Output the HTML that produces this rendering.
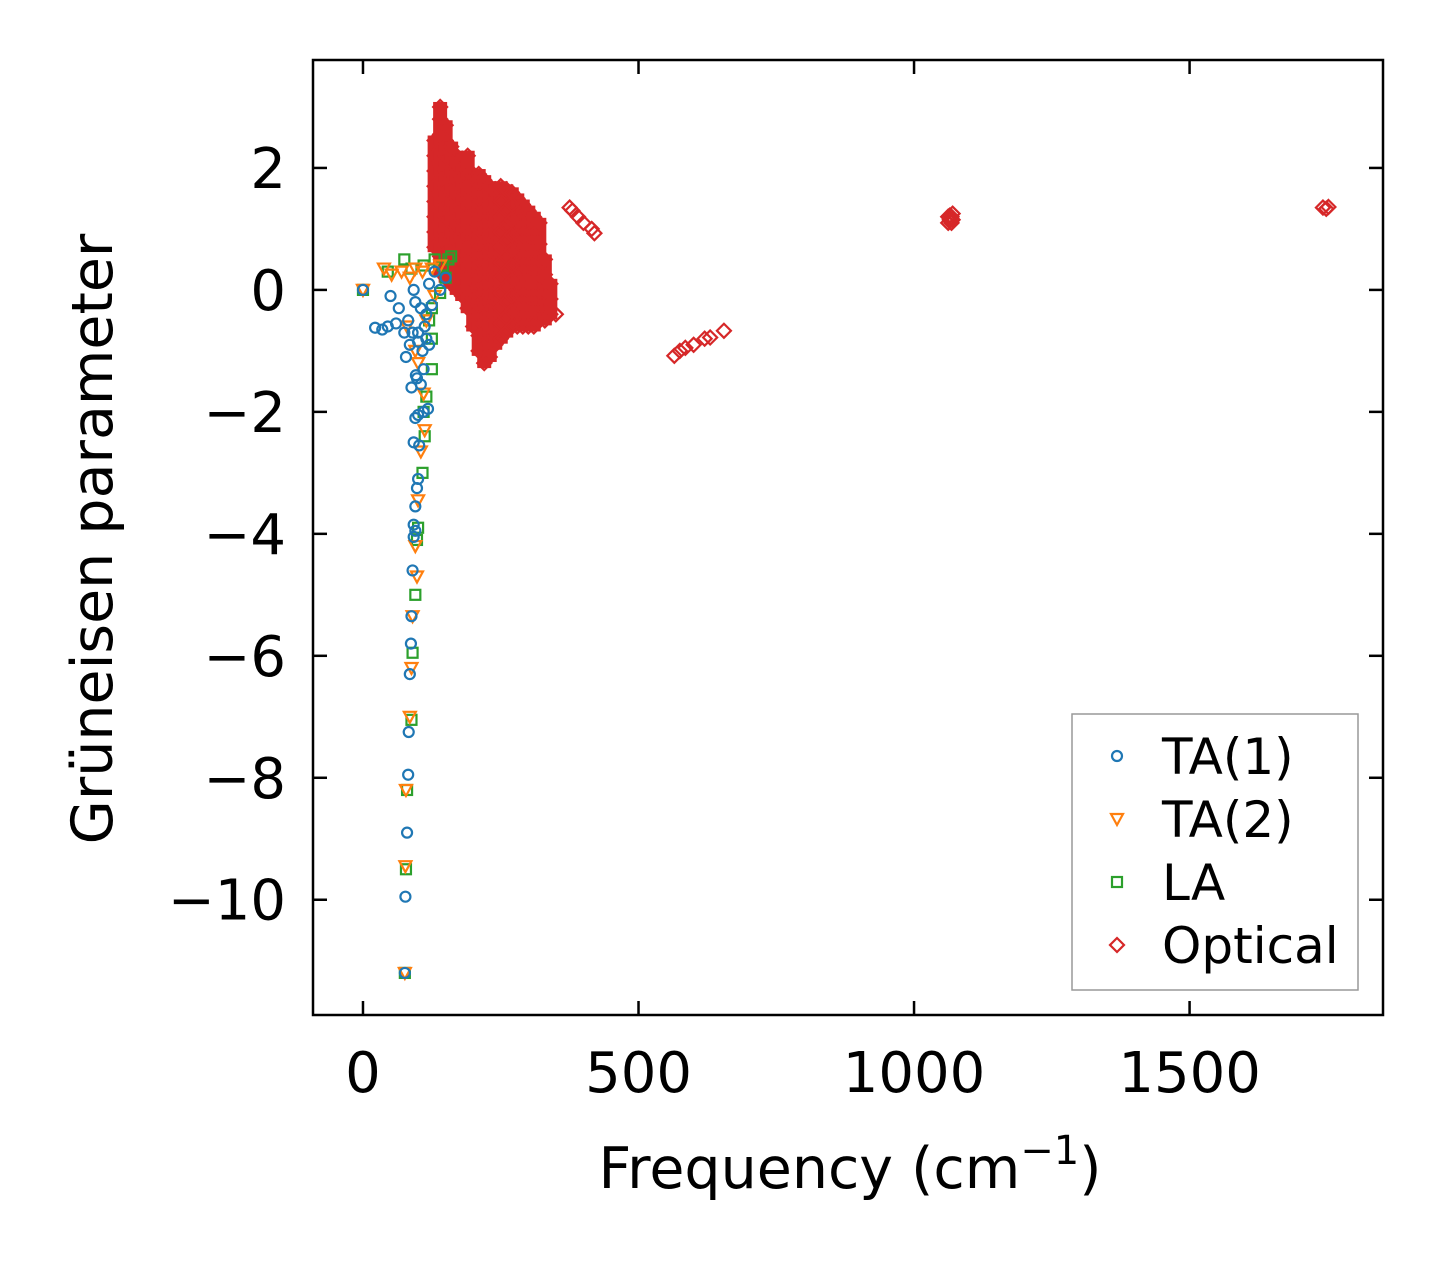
<!DOCTYPE html>
<html><head><meta charset="utf-8"><style>
html,body{margin:0;padding:0;background:#fff;}
svg{display:block;font-family:"DejaVu Sans","Liberation Sans",sans-serif;}
</style></head><body>
<svg id="chart" width="1443" height="1264" viewBox="0 0 1443 1264" xmlns="http://www.w3.org/2000/svg">
<rect width="1443" height="1264" fill="#fff"/>
<g id="marks"></g>
<rect x="313" y="60" width="1070" height="955" fill="none" stroke="#000" stroke-width="2.5"/>
<g id="ticks"></g>
<text x="850" y="1188" font-size="57" text-anchor="middle">Frequency (cm<tspan dy="-24" font-size="40">−1</tspan><tspan dy="24">)</tspan></text>
<text transform="translate(112,539) rotate(-90)" font-size="57" text-anchor="middle">Grüneisen parameter</text>
<g id="legend">
<rect x="1072" y="714" width="286" height="276" fill="#fff" stroke="#999" stroke-width="1.5"/>
</g>
</svg>
<script>
const xTicks = [0, 500, 1000, 1500];
const yTicks = [2, 0, -2, -4, -6, -8, -10];
const ta1Freq = [0,22,35,45,50,60,65,75,78,82,85,88,90,92,95,98,100,105,110,112,115,120,125,130,140,150,95,100,92,102,100,98,95,92,95,92,90,88,87,85,83,82,80,77,76,100,108,105,96,115,118,110,120];
const ta1Gamma = [0,-0.62,-0.65,-0.6,-0.1,-0.55,-0.3,-0.7,-1.1,-0.5,-0.9,-1.6,-0.7,0.0,-0.2,-1.45,-0.85,-0.3,-1.3,-0.6,-0.4,0.1,-0.25,0.3,0.0,0.2,-2.1,-2.05,-2.5,-2.55,-3.1,-3.25,-3.55,-3.85,-3.95,-4.05,-4.6,-5.35,-5.8,-6.3,-7.25,-7.95,-8.9,-9.95,-11.2,-0.7,-1.0,-1.55,-1.4,-0.8,-1.95,-2.0,-0.9];
const ta2Freq = [0,38,52,70,85,95,108,125,140,80,95,100,110,112,105,100,95,98,90,88,85,78,77,76,130,115];
const ta2Gamma = [0,0.35,0.25,0.3,0.2,0.35,0.3,0.35,0.4,-0.6,-1.0,-1.2,-1.7,-2.3,-2.65,-3.45,-4.2,-4.7,-5.35,-6.2,-7.0,-8.2,-9.45,-11.2,-0.1,-0.5];
const laFreq = [0,45,75,88,110,130,145,155,160,125,120,125,125,115,110,112,108,100,98,95,90,88,80,78,76,140,150];
const laGamma = [0,0.3,0.5,0.35,0.4,0.5,0.4,0.5,0.55,-0.3,-0.5,-0.8,-1.3,-1.75,-2.0,-2.4,-3.0,-3.9,-4.1,-5.0,-5.95,-7.05,-8.2,-9.5,-11.2,-0.05,0.2];
const optCols = [
 [130,[0.7,0.95,1.2,1.45,1.7,1.95,2.2,2.45]],
 [140,[0.3,0.55,0.8,1.05,1.3,1.55,1.8,2.05,2.3,2.55,2.8,3.0]],
 [150,[0.2,0.45,0.7,0.95,1.2,1.45,1.7,1.95,2.2,2.45,2.7]],
 [160,[0.1,0.35,0.6,0.85,1.1,1.35,1.6,1.85,2.1,2.35]],
 [170,[0.0,0.25,0.5,0.75,1.0,1.25,1.5,1.75,2.0,2.2]],
 [180,[-0.1,0.15,0.4,0.65,0.9,1.15,1.4,1.65,1.9,2.15]],
 [190,[-0.3,-0.05,0.2,0.45,0.7,0.95,1.2,1.45,1.7,1.95,2.2]],
 [200,[-0.6,-0.35,-0.1,0.15,0.4,0.65,0.9,1.15,1.4,1.65,1.9]],
 [210,[-1.0,-0.75,-0.5,-0.25,0.0,0.25,0.5,0.75,1.0,1.25,1.5,1.75,1.9]],
 [220,[-1.2,-0.95,-0.7,-0.45,-0.2,0.05,0.3,0.55,0.8,1.05,1.3,1.55,1.8]],
 [230,[-1.1,-0.85,-0.6,-0.35,-0.1,0.15,0.4,0.65,0.9,1.15,1.4,1.7]],
 [240,[-0.9,-0.65,-0.4,-0.15,0.1,0.35,0.6,0.85,1.1,1.35,1.65]],
 [250,[-0.8,-0.55,-0.3,-0.05,0.2,0.45,0.7,0.95,1.2,1.45,1.7]],
 [260,[-0.7,-0.45,-0.2,0.05,0.3,0.55,0.8,1.05,1.3,1.65]],
 [270,[-0.6,-0.35,-0.1,0.15,0.4,0.65,0.9,1.15,1.4,1.6]],
 [280,[-0.6,-0.35,-0.1,0.15,0.4,0.65,0.9,1.15,1.5]],
 [290,[-0.6,-0.35,-0.1,0.15,0.4,0.65,0.9,1.15,1.4]],
 [300,[-0.6,-0.35,-0.1,0.15,0.4,0.65,0.9,1.3]],
 [310,[-0.6,-0.35,-0.1,0.15,0.4,0.65,0.9,1.2]],
 [320,[-0.5,-0.25,0.0,0.25,0.5,0.75,1.1]],
 [330,[-0.5,-0.25,0.0,0.25,0.5]],
 [340,[-0.4,-0.15,0.1]],
 [350,[-0.4]],
 [375,[1.35]],[380,[1.3]],[390,[1.2]],[400,[1.1]],[415,[1.0]],[420,[0.93]],
 [565,[-1.08]],[575,[-1.0]],[585,[-0.95]],[600,[-0.9]],[620,[-0.8]],[630,[-0.78]],[655,[-0.67]],
 [1062,[1.1,1.2]],[1065,[1.15,1.22]],[1068,[1.2,1.1]],[1070,[1.25,1.15]],
 [1742,[1.35]],[1748,[1.33]],[1752,[1.36]]
];
const legendLabels = ["TA(1)","TA(2)","LA","Optical"];

const NS = "http://www.w3.org/2000/svg";
const X0 = 313, X1 = 1383, Y0 = 60, Y1 = 1015;
const xMin = -90.7, xMax = 1851, yMin = -11.89, yMax = 3.77;
function xs(v){ return X0 + (v - xMin) / (xMax - xMin) * (X1 - X0); }
function ys(v){ return Y1 - (v - yMin) / (yMax - yMin) * (Y1 - Y0); }
function mk(tag, attrs, parent){
  const e = document.createElementNS(NS, tag);
  for (const k in attrs) e.setAttribute(k, attrs[k]);
  parent.appendChild(e); return e;
}
const COLORS = {ta1:"#1f77b4", ta2:"#ff7f0e", la:"#2ca02c", opt:"#d62728"};
function marker(kind, cx, cy, parent, scale){
  const s = scale || 1;
  let e;
  if (kind === "ta1") e = mk("circle", {cx:cx, cy:cy, r:5*s, fill:"none", stroke:COLORS.ta1, "stroke-width":2.2}, parent);
  else if (kind === "ta2") e = mk("polygon", {points:`${cx-6*s},${cy-5*s} ${cx+6*s},${cy-5*s} ${cx},${cy+6*s}`, fill:"none", stroke:COLORS.ta2, "stroke-width":2.2}, parent);
  else if (kind === "la") e = mk("rect", {x:cx-5*s, y:cy-5*s, width:10*s, height:10*s, fill:"none", stroke:COLORS.la, "stroke-width":2.2}, parent);
  else e = mk("polygon", {points:`${cx},${cy-7*s} ${cx+7*s},${cy} ${cx},${cy+7*s} ${cx-7*s},${cy}`, fill:"none", stroke:COLORS.opt, "stroke-width":2.2}, parent);
  return e;
}
const marks = document.getElementById("marks");
const gOpt = mk("g", {}, marks);


optCols.forEach(function(c){
  if (c[1].length < 3) return;
  const hi = Math.max.apply(null, c[1]), lo = Math.min.apply(null, c[1]);
  const r = mk("rect", {x:xs(c[0]) - 7, y:ys(hi) - 5, width:14, height:ys(lo) - ys(hi) + 10, fill:COLORS.opt}, gOpt);
  
  
});
optCols.forEach(function(c){
  c[1].forEach(function(g){
    const e = marker("opt", xs(c[0]), ys(g), gOpt);
    
    
  });
});
function drawSeries(kind, fx, gy, name){
  const g = mk("g", {}, marks);
  
  
  fx.forEach(function(f, i){
    const e = marker(kind, xs(f), ys(gy[i]), g);
    
    
  });
}
drawSeries("la", laFreq, laGamma, "la");
drawSeries("ta2", ta2Freq, ta2Gamma, "ta2");
drawSeries("ta1", ta1Freq, ta1Gamma, "ta1");

const ticks = document.getElementById("ticks");
xTicks.forEach(function(t){
  const x = xs(t);
  const a = mk("line", {x1:x, x2:x, y1:Y1, y2:Y1-14, stroke:"#000", "stroke-width":2.5}, ticks);
  
  
  const b = mk("line", {x1:x, x2:x, y1:Y0, y2:Y0+14, stroke:"#000", "stroke-width":2.5}, ticks);
  
  
  const l = mk("text", {x:x, y:1092, "font-size":56, "text-anchor":"middle"}, ticks);
  l.textContent = String(t);
  
  
});
yTicks.forEach(function(t){
  const y = ys(t);
  const a = mk("line", {x1:X0, x2:X0+14, y1:y, y2:y, stroke:"#000", "stroke-width":2.5}, ticks);
  
  
  const b = mk("line", {x1:X1, x2:X1-14, y1:y, y2:y, stroke:"#000", "stroke-width":2.5}, ticks);
  
  
  const l = mk("text", {x:286, y:y+20, "font-size":56, "text-anchor":"end"}, ticks);
  l.textContent = t < 0 ? "\u2212" + Math.abs(t) : String(t);
  
  
});

const legend = document.getElementById("legend");
const kinds = ["ta1","ta2","la","opt"];
legendLabels.forEach(function(lab, i){
  const cy = 756 + i * 63;
  const g = mk("g", {}, legend);
  
  
  marker(kinds[i], 1117, cy, g);
  const t = mk("text", {x:1162, y:cy+18, "font-size":50}, g);
  t.textContent = lab;
});
</script>
</body></html>
